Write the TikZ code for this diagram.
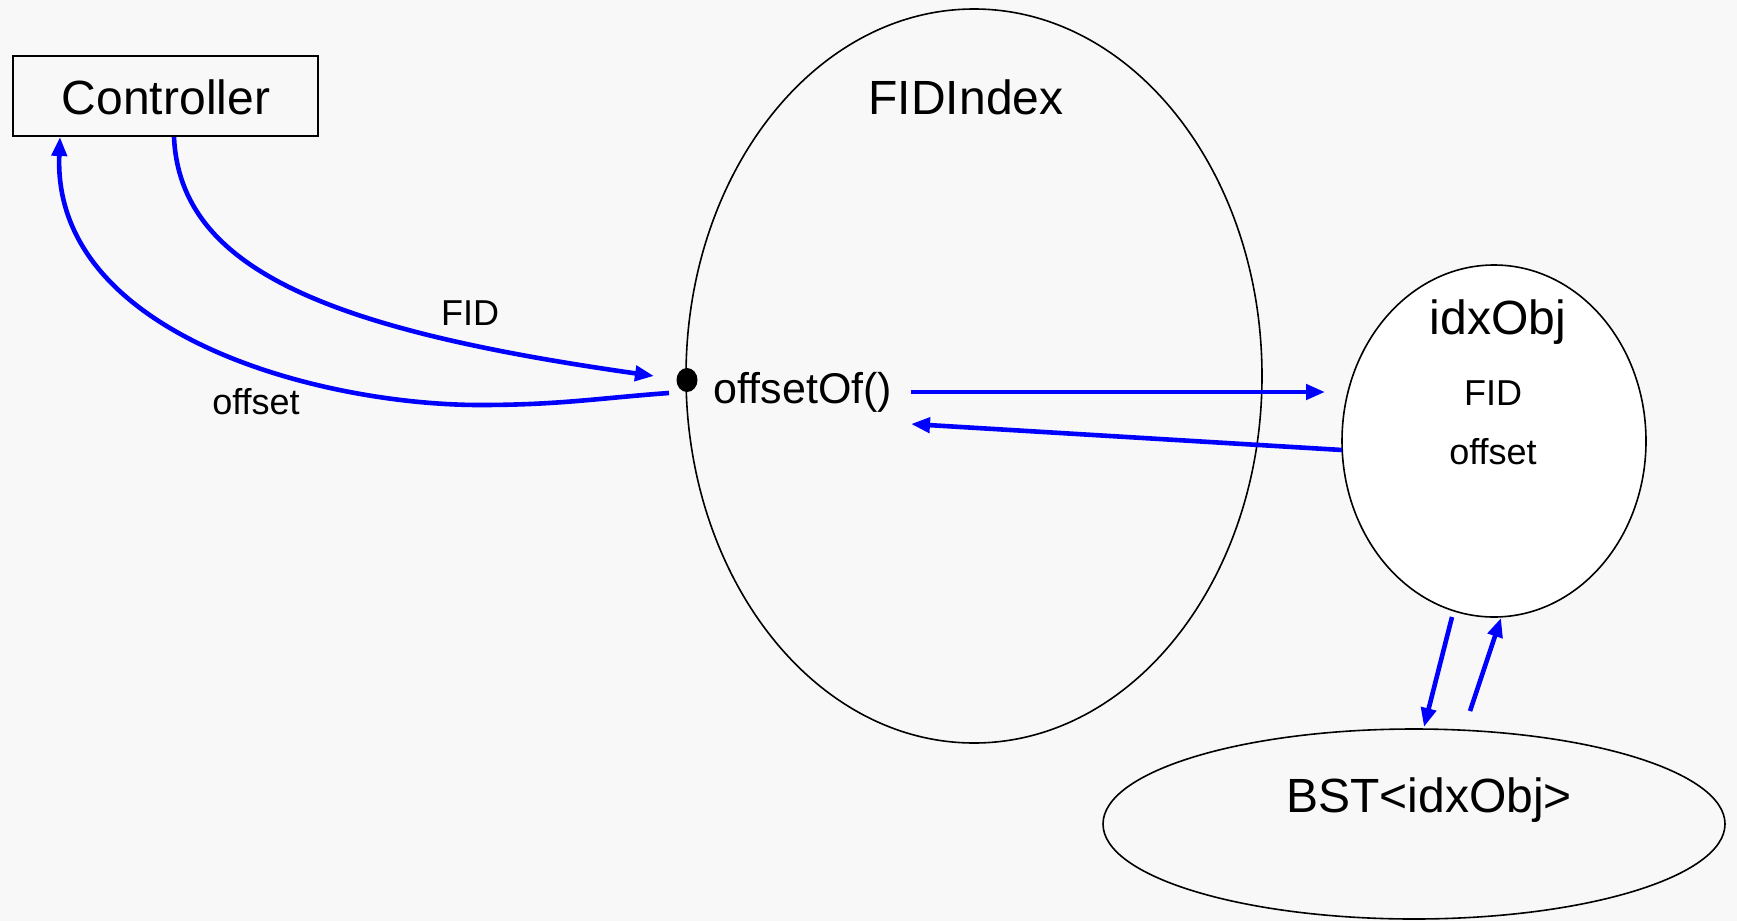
\documentclass[tikz,border=0pt]{standalone}
\usepackage{fontspec}
\setmainfont{Liberation Sans}
\usetikzlibrary{arrows.meta,shapes.geometric}
\definecolor{bgc}{HTML}{F8F8F8}
\tikzset{
  blk/.style={draw=black,line width=1.6pt},
  flow/.style={draw=blue,line width=4.6pt,-{Triangle[length=19pt,width=15pt]}},
  big/.style={font=\fontsize{48}{56}\selectfont,inner sep=0pt},
  mid/.style={font=\fontsize{43}{50}\selectfont,inner sep=0pt},
  small/.style={font=\fontsize{36}{42}\selectfont,inner sep=0pt},
}
\begin{document}
\begin{tikzpicture}[x=1pt,y=-1pt]
\fill[bgc] (0,0) rectangle (1737,921);
\useasboundingbox (0,0) rectangle (1737,921);
% shapes
\node[blk,line width=2pt,rectangle,minimum width=305pt,minimum height=80pt,inner sep=0pt] (ctrl) at (165.5,96) {};
\node[blk,ellipse,minimum width=576pt,minimum height=734pt,inner sep=0pt] (fid) at (974,376) {};
\node[blk,ellipse,fill=white,minimum width=304pt,minimum height=352pt,inner sep=0pt] (idx) at (1494,441) {};
\node[blk,ellipse,minimum width=622pt,minimum height=190pt,inner sep=0pt] (bst) at (1414,824) {};
\fill[black] (687,380) ellipse (10.5pt and 12pt);
\coordinate (dot) at (687,380);
% texts
\node[big] (tctrl) at (166,97) {Controller};
\node[big] (tfid) at (966,97) {FIDIndex};
\node[mid] (toff) at (803,392) {offsetOf()};
\node[big] (tidx) at (1498,322) {idxObj};
\node[small] (tf) at (1493,393) {FID};
\node[small] (to) at (1493,452) {offset};
\node[big] (tbst) at (1429,800) {BST<idxObj>};
\node[small] (lfid) at (470,313) {FID};
\node[small] (loff) at (256,402) {offset};
% connector end points
\coordinate (c1) at (174,137);
\coordinate (c2) at (60,137);
\coordinate (d1) at (654,376);
\coordinate (d2) at (669,393);
\coordinate (m1) at (480,405);
\coordinate (o1) at (911,392);
\coordinate (o2) at (911,424);
\coordinate (i1) at (1325,392);
\coordinate (i2) at (1342,450);
\coordinate (i3) at (1452,617);
\coordinate (i4) at (1501,618);
\coordinate (b1) at (1424,727);
\coordinate (b2) at (1470,711);
% connectors
\draw[flow] (c1) .. controls (180,270) and (330,330) .. (d1);
\draw[flow] (d2) .. controls (600,398) and (560,405) .. (m1)
  .. controls (320,405) and (52,335) .. (c2);
\draw[flow] (o1) -- (i1);
\draw[flow] (i2) -- (o2);
\draw[flow] (i3) -- (b1);
\draw[flow] (b2) -- (i4);
\end{tikzpicture}
\end{document}
